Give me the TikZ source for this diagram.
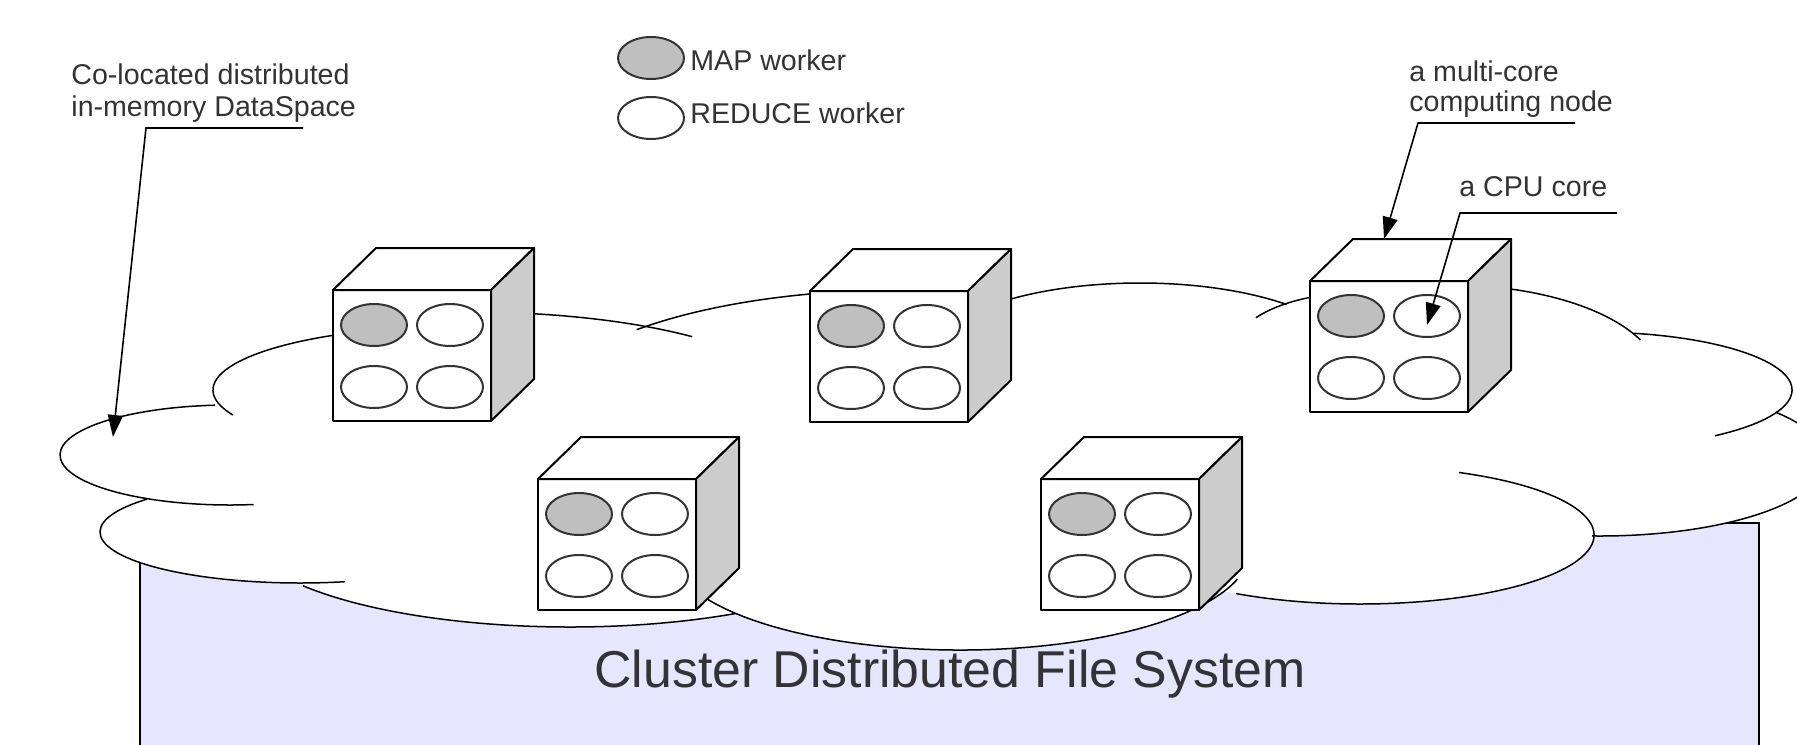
\documentclass[tikz,border=0pt]{standalone}
\usepackage{fontspec}
\setmainfont{Liberation Sans}
\usetikzlibrary{calc,arrows.meta,shapes.geometric}
\definecolor{fsblue}{RGB}{230,230,255}
\definecolor{textgray}{RGB}{51,51,51}
% one multi-core computing node: front face top-left corner, name
\def\cpunode(#1,#2)#3{%
  \draw[cubeedge,fill=white] (#1,#2) rectangle ++(158,131);
  \draw[cubeedge,fill=white] (#1,#2) -- ++(43,-42) -- ++(158,0) -- ++(-43,42) -- cycle;
  \draw[cubeedge,fill=black!20] ({#1+158},#2) -- ++(43,-42) -- ++(0,131) -- ++(-43,42) -- cycle;
  \coordinate (#3-top) at ({#1+74},{#2-42});
  \node[mapcore] (#3-c1) at ({#1+41},{#2+35}) {};
  \node[core] (#3-c2) at ({#1+117},{#2+35}) {};
  \node[core] (#3-c3) at ({#1+41},{#2+97}) {};
  \node[core] (#3-c4) at ({#1+117},{#2+97}) {};
}

\begin{document}
\begin{tikzpicture}[x=0.5pt,y=-0.5pt,
    cubeedge/.style={draw=black,line width=1pt,line join=round},
    core/.style={ellipse,draw=black!80,line width=1pt,fill=white,minimum width=33pt,minimum height=21pt,inner sep=0pt},
    mapcore/.style={core,fill=black!25},
    cloudline/.style={line width=0.75pt},
    pointer/.style={line width=0.8pt,-{Triangle[length=11pt,width=7.5pt]}},
    annot/.style={font=\fontsize{14.3}{16}\selectfont,text=textgray,inner sep=0pt,align=left}]
    %%%%% START %%%%%
    \useasboundingbox (0,0) rectangle (1797,744);
    \clip (0,0) rectangle (1797,744);

    % file system
    \fill[fsblue] (140,523) rectangle (1759,760);
    \draw[line width=0.8pt] (140,760) -- (140,523) -- (1759,523) -- (1759,760);

    % cloud: white lobes over the file system
    \foreach \cx/\cy/\rx/\ry in {300/532/200/51, 570/527/330/100, 960/550/290/100,
                                 1360/535/234/69, 1600/460/226/76}
      \fill[white] (\cx,\cy) ellipse [x radius=\rx, y radius=\ry];

    % cloud: outline arcs
    \foreach \cx/\cy/\rx/\ry/\sa/\ea in {463/390/250/64/245/157, 230/455/170/50/265/82,
                                         300/532/200/51/220/77, 570/527/330/100/144/60,
                                         960/550/290/100/155/17, 1360/535/234/69/295/482,
                                         1600/460/226/76/321/452, 1592/390/200/58/282/412,
                                         1450/380/210/95/275/335, 1357/353/125/60/216/260,
                                         1140/363/215/80/225/313, 900/420/366/130/224/260,
                                         470/400/320/88/270/314}
      \draw[cloudline] ({\cx+\rx*cos(\sa)},{\cy+\ry*sin(\sa)})
        arc[start angle=\sa, end angle=\ea, x radius=\rx, y radius=\ry];

    % computing nodes
    \cpunode(333,290){cubeA}
    \cpunode(810,291){cubeB}
    \cpunode(1310,281){cubeC}
    \cpunode(538,479){cubeD}
    \cpunode(1041,479){cubeE}

    % legend
    \node[mapcore] (mapkey) at (651,58) {};
    \node[core] (redkey) at (651,118) {};
    \node[annot,anchor=base west] (maplabel) at (690,70) {MAP worker};
    \node[annot,anchor=base west] (redlabel) at (690,123) {REDUCE worker};

    % annotations
    \node[annot,anchor=north west] (dslabel) at (71,63) {Co-located distributed\\in-memory DataSpace};
    \coordinate (dsbar) at (303,128);
    \coordinate (dsbend) at (146,128);
    \coordinate (dstip) at (113,437);
    \draw[pointer] (dsbar) -- (dsbend) -- (dstip);

    \node[annot,anchor=north west,font=\fontsize{14.3}{15}\selectfont] (mclabel) at (1409,60) {a multi-core\\computing node};
    \coordinate (mcbar) at (1575,123);
    \coordinate (mcbend) at (1418,123);
    \draw[pointer] (mcbar) -- (mcbend) -- (cubeC-top);

    \node[annot,anchor=base west] (corelabel) at (1459,196) {a CPU core};
    \coordinate (corebar) at (1617,213);
    \coordinate (corebend) at (1460,213);
    \draw[pointer] (corebar) -- (corebend) -- ($(cubeC-c2)+(0,9)$);

    \node[font=\fontsize{25.9}{30}\selectfont,text=textgray,anchor=base] (fslabel) at (950,687) {Cluster Distributed File System};
    %%%%% END %%%%%
\end{tikzpicture}
\end{document}
